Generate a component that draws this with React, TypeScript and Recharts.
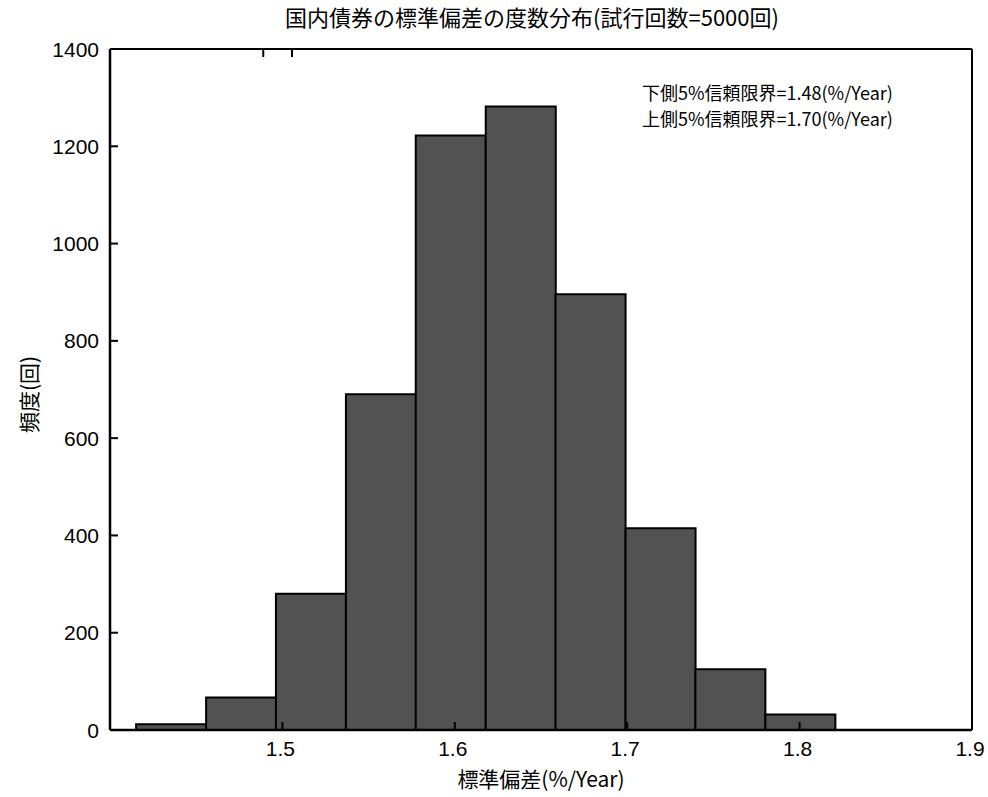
import React from "react";
import { Bar, BarChart, XAxis, YAxis, Label } from "recharts";

// histogram bins (centers) and counts
const binCenters = [1.4354, 1.476, 1.5165, 1.5571, 1.5976, 1.6382, 1.6787, 1.7193, 1.7598, 1.8004];
const counts = [12, 67, 280, 690, 1222, 1282, 896, 415, 125, 32];

const xTicks = [1.5, 1.6, 1.7, 1.8, 1.9];
const yTicks = [0, 200, 400, 600, 800, 1000, 1200, 1400];

const titleText = "国内債券の標準偏差の度数分布(試行回数=5000回)";
const noteLines = ["下側5%信頼限界=1.48(%/Year)", "上側5%信頼限界=1.70(%/Year)"];

const data = binCenters.map((x, i) => ({ x, count: counts[i] }));

const numFont = "'Liberation Sans Narrow', 'Liberation Sans', Arial, sans-serif";
const cjkFont = "'Noto Sans CJK JP', 'Liberation Sans', sans-serif";

// MATLAB-style ticks: short marks pointing into the box
function LeftTick(props: any) {
    const { x, y, payload } = props;
    return (
        <g>
            <line x1={x} y1={y} x2={x + 8} y2={y} stroke="#000" strokeWidth={2} />
            <text x={x - 11} y={y} dy="0.36em" textAnchor="end" fontSize={21} fontFamily={numFont} fill="#000">
                {payload.value}
            </text>
        </g>
    );
}

function BottomTick(props: any) {
    const { x, y, payload } = props;
    return (
        <g>
            <line x1={x} y1={y} x2={x} y2={y - 8} stroke="#000" strokeWidth={2} />
            <text x={x - 2} y={y + 26} textAnchor="middle" fontSize={21} fontFamily={numFont} fill="#000">
                {payload.value.toFixed(1)}
            </text>
        </g>
    );
}

function RightTick(props: any) {
    const { x, y } = props;
    return <line x1={x} y1={y} x2={x - 8} y2={y} stroke="#000" strokeWidth={2} />;
}

function TopTick(props: any) {
    const { x, y } = props;
    return <line x1={x} y1={y} x2={x} y2={y + 8} stroke="#000" strokeWidth={2} />;
}

export default function App() {
    return (
        <div style={{ position: "absolute", left: 0, top: 0, width: 988, height: 797, background: "#fff" }}>
            <BarChart
                width={988}
                height={797}
                data={data}
                margin={{ top: 48, right: 15, bottom: 22, left: 50 }}
                barCategoryGap={0}
                barGap={0}
            >
                <XAxis
                    xAxisId="b"
                    dataKey="x"
                    type="number"
                    domain={[1.4, 1.9]}
                    ticks={xTicks}
                    allowDataOverflow
                    height={45}
                    tickSize={0}
                    tickMargin={0}
                    tick={(p: any) => <BottomTick {...p} />}
                    axisLine={{ stroke: "#000", strokeWidth: 2.5 }}
                    tickLine={false}
                >
                    <Label
                        value="標準偏差(%/Year)"
                        position="insideBottom"
                        offset={-12}
                        fontSize={21}
                        fontFamily={cjkFont}
                        fill="#000"
                    />
                </XAxis>
                <XAxis
                    xAxisId="t"
                    orientation="top"
                    type="number"
                    domain={[1.4, 1.9]}
                    ticks={xTicks}
                    allowDataOverflow
                    height={1}
                    tickSize={0}
                    tickMargin={0}
                    tick={(p: any) => <TopTick {...p} />}
                    axisLine={{ stroke: "#000", strokeWidth: 2 }}
                    tickLine={false}
                />
                <YAxis
                    yAxisId="l"
                    domain={[0, 1400]}
                    ticks={yTicks}
                    width={60}
                    tickSize={0}
                    tickMargin={0}
                    tick={(p: any) => <LeftTick {...p} />}
                    axisLine={{ stroke: "#000", strokeWidth: 2.5 }}
                    tickLine={false}
                >
                    <Label
                        value="頻度(回)"
                        angle={-90}
                        position="insideLeft"
                        offset={-20}
                        dy={5}
                        fontSize={21}
                        fontFamily={cjkFont}
                        fill="#000"
                        style={{ textAnchor: "middle" }}
                    />
                </YAxis>
                <YAxis
                    yAxisId="r"
                    orientation="right"
                    domain={[0, 1400]}
                    ticks={yTicks}
                    width={1}
                    tickSize={0}
                    tickMargin={0}
                    tick={(p: any) => <RightTick {...p} />}
                    axisLine={{ stroke: "#000", strokeWidth: 2 }}
                    tickLine={false}
                />
                <Bar
                    xAxisId="b"
                    yAxisId="l"
                    dataKey="count"
                    fill="#525252"
                    stroke="#000"
                    strokeWidth={2}
                    isAnimationActive={false}
                />
            </BarChart>
            <svg
                width={988}
                height={797}
                style={{ position: "absolute", left: 0, top: 0, pointerEvents: "none" }}
            >
                <text
                    x={532}
                    y={26}
                    textAnchor="middle"
                    fontSize={22}
                    fontFamily={cjkFont}
                    fill="#000"
                >
                    {titleText}
                </text>
                {noteLines.map((t, i) => (
                    <text
                        key={i}
                        x={642}
                        y={100 + i * 26}
                        fontSize={18}
                        fontFamily={cjkFont}
                        fill="#000"
                    >
                        {t}
                    </text>
                ))}
            </svg>
        </div>
    );
}
